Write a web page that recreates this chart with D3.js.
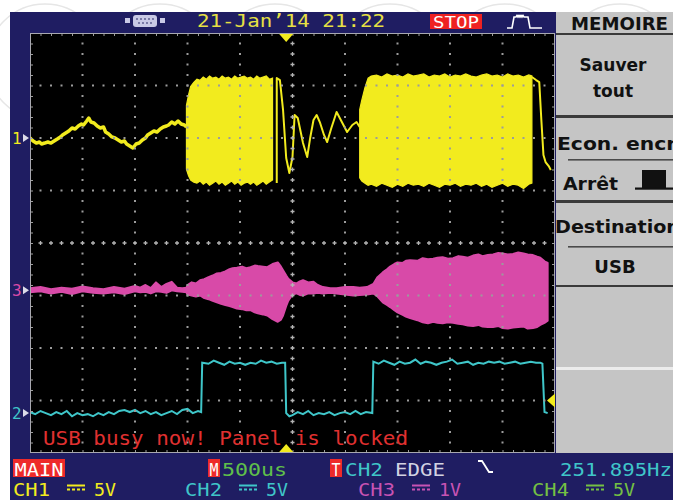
<!DOCTYPE html>
<html>
<head>
<meta charset="utf-8">
<script src="https://cdn.jsdelivr.net/npm/d3@7"></script>
<style>
  body { margin: 0; background: #fff; }
  svg { display: block; }
</style>
</head>
<body>
<div id="scope"></div>
<script>
/* Scope capture: CH1 / CH2 / CH3, 500 us/div, trigger CH2 falling edge.
   Time in ms from the left edge of the screen, amplitudes in volts. */

// ---- CH1 (5 V/div) ----
const CH1_PRE = [
  [0.00,0.00],[0.03,-0.29],[0.06,-0.48],[0.09,-0.38],[0.11,-0.57],[0.14,-0.48],[0.17,-0.38],
  [0.20,-0.48],[0.23,-0.29],[0.26,-0.10],[0.29,0.10],[0.31,0.29],[0.34,0.48],[0.37,0.67],
  [0.40,0.95],[0.43,0.86],[0.46,1.14],[0.49,1.33],[0.51,1.24],[0.54,1.62],[0.56,1.90],
  [0.58,1.52],[0.61,1.43],[0.64,1.14],[0.67,0.95],[0.70,1.05],[0.72,0.57],[0.75,0.38],
  [0.78,0.10],[0.81,0.00],[0.84,-0.19],[0.87,-0.38],[0.90,-0.29],[0.92,-0.57],[0.95,-0.76],
  [0.98,-0.95],[1.01,-0.57],[1.04,-0.48],[1.07,-0.19],[1.10,0.00],[1.12,0.29],[1.15,0.48],
  [1.18,0.67],[1.21,0.57],[1.24,0.86],[1.27,1.05],[1.30,1.14],[1.32,1.24],[1.35,1.52],
  [1.38,1.33],[1.41,1.62],[1.44,1.33],[1.47,1.24],[1.49,1.05]
];
// burst envelopes: [t, upper, lower]
const CH1_BURST_A = [
  [1.49,3.1,-3.0],[1.51,4.1,-3.6],[1.53,4.9,-4.0],[1.56,5.3,-4.2],[1.59,5.6,-4.3],[1.62,5.5,-4.1],
  [1.65,5.8,-4.4],[1.68,5.6,-4.2],[1.71,5.9,-4.5],[1.74,5.7,-4.3],[1.77,5.8,-4.1],[1.80,5.6,-4.4],
  [1.83,5.9,-4.2],[1.86,5.7,-4.5],[1.89,5.8,-4.3],[1.92,5.6,-4.1],[1.95,5.9,-4.4],[1.98,5.7,-4.2],
  [2.01,5.8,-4.5],[2.04,5.9,-4.3],[2.07,5.7,-4.2],[2.10,5.8,-4.4],[2.13,5.6,-4.2],[2.16,5.9,-4.5],
  [2.19,5.7,-4.3],[2.22,5.8,-4.1],[2.25,5.9,-4.4],[2.28,5.6,-4.2],[2.31,5.7,-4.0]
];
const CH1_RING = [
  [2.35,-4.29],[2.35,5.71],[2.38,5.52],[2.41,2.67],[2.44,-1.90],[2.47,-3.33],[2.50,-1.81],
  [2.52,2.19],[2.55,1.90],[2.60,-0.48],[2.64,-1.81],[2.67,0.10],[2.70,1.71],[2.73,2.19],
  [2.76,1.52],[2.80,0.29],[2.83,-0.38],[2.87,0.95],[2.92,2.48],[2.97,1.52],[3.02,0.57],
  [3.07,1.24],[3.11,1.52],[3.14,1.05]
];
const CH1_BURST_B = [
  [3.14,2.7,-3.8],[3.16,3.6,-4.1],[3.19,4.8,-4.3],[3.22,5.7,-4.5],[3.25,5.9,-4.4],[3.30,6.0,-4.6],
  [3.35,5.8,-4.3],[3.40,6.1,-4.5],[3.45,5.9,-4.7],[3.50,6.0,-4.4],[3.55,5.8,-4.6],[3.60,6.1,-4.3],
  [3.65,5.9,-4.5],[3.70,6.0,-4.4],[3.75,6.1,-4.6],[3.80,5.8,-4.3],[3.85,6.0,-4.5],[3.90,5.9,-4.7],
  [3.95,6.1,-4.4],[4.00,5.8,-4.5],[4.05,6.0,-4.3],[4.10,5.9,-4.6],[4.15,6.1,-4.4],[4.20,5.9,-4.5],
  [4.25,5.8,-4.3],[4.30,6.0,-4.6],[4.35,6.1,-4.4],[4.40,5.9,-4.7],[4.45,6.0,-4.5],[4.50,5.8,-4.3],
  [4.55,6.1,-4.6],[4.60,5.9,-4.4],[4.65,6.0,-4.5],[4.70,5.8,-4.8],[4.75,6.0,-4.4],[4.78,5.9,-4.3]
];
const CH1_TAIL = [
  [4.78,5.81],[4.82,5.52],[4.85,5.33],[4.87,1.71],[4.89,-1.62],[4.91,-2.29],[4.94,-2.67],[4.96,-3.05]
];

// ---- CH2 (5 V/div) ----
const CH2_TRACE = [
  [0.00,0.1],[0.05,-0.1],[0.10,0.2],[0.15,0.0],[0.20,-0.2],[0.25,0.1],[0.30,-0.1],[0.35,0.2],
  [0.40,-0.3],[0.45,0.0],[0.50,-0.2],[0.55,-0.1],[0.60,-0.3],[0.65,0.0],[0.70,-0.2],[0.75,0.1],
  [0.80,-0.1],[0.85,0.2],[0.90,0.3],[0.95,0.1],[1.00,0.3],[1.05,0.0],[1.10,0.2],[1.15,-0.1],
  [1.20,0.1],[1.25,-0.2],[1.30,0.0],[1.35,0.2],[1.40,-0.1],[1.45,0.3],[1.50,0.4],[1.55,0.0],
  [1.60,0.2],[1.63,0.1],[1.64,4.8],[1.70,4.7],[1.75,5.0],[1.80,4.8],[1.85,4.6],[1.90,4.9],
  [1.95,4.7],[2.00,4.8],[2.05,4.6],[2.10,4.8],[2.15,4.7],[2.20,5.0],[2.25,4.8],[2.30,4.9],
  [2.35,4.7],[2.40,4.8],[2.43,4.8],[2.44,0.0],[2.47,-0.3],[2.50,-0.2],[2.55,0.1],[2.60,-0.1],
  [2.65,0.2],[2.70,-0.2],[2.75,0.0],[2.80,-0.1],[2.85,0.1],[2.90,-0.2],[2.95,0.0],[3.00,0.1],
  [3.05,-0.1],[3.10,0.2],[3.15,-0.1],[3.20,0.1],[3.26,0.0],[3.27,4.9],[3.32,4.7],[3.37,5.0],
  [3.42,4.8],[3.47,4.6],[3.52,4.9],[3.57,4.7],[3.62,4.8],[3.67,5.1],[3.72,4.7],[3.77,4.9],
  [3.82,4.8],[3.87,4.6],[3.92,4.8],[3.97,4.9],[4.02,5.1],[4.07,4.7],[4.12,4.8],[4.17,4.9],
  [4.22,4.6],[4.27,4.8],[4.32,4.7],[4.37,4.9],[4.42,4.8],[4.47,4.9],[4.52,4.7],[4.57,4.8],
  [4.62,4.9],[4.67,4.7],[4.72,4.8],[4.77,4.9],[4.82,4.8],[4.86,4.8],[4.88,4.7],[4.90,0.1],
  [4.93,0.0]
];

// ---- CH3 (1 V/div) envelope: [t, upper, lower] ----
const CH3_ENV = [
  [0.00,0.04,-0.04],[0.10,0.06,-0.02],[0.20,0.02,-0.06],[0.30,0.05,-0.03],[0.40,0.03,-0.07],
  [0.50,0.07,-0.02],[0.60,0.04,-0.05],[0.70,0.02,-0.06],[0.80,0.06,-0.04],[0.90,0.03,-0.07],
  [1.00,0.08,-0.02],[1.05,0.05,-0.04],[1.10,0.10,-0.03],[1.15,0.04,-0.06],[1.20,0.15,-0.02],
  [1.25,0.06,-0.03],[1.30,0.12,-0.05],[1.35,0.16,0.00],[1.40,0.05,-0.02],[1.45,0.04,-0.03],
  [1.49,0.05,-0.04],[1.50,0.10,-0.08],[1.54,0.15,-0.10],[1.58,0.13,-0.12],[1.62,0.19,-0.10],
  [1.66,0.21,-0.15],[1.70,0.25,-0.17],[1.74,0.28,-0.20],[1.78,0.32,-0.23],[1.82,0.33,-0.26],
  [1.86,0.36,-0.28],[1.90,0.40,-0.30],[1.93,0.42,-0.32],[1.97,0.43,-0.35],[2.02,0.45,-0.36],
  [2.06,0.42,-0.38],[2.10,0.44,-0.38],[2.14,0.47,-0.42],[2.17,0.46,-0.44],[2.22,0.45,-0.46],
  [2.26,0.44,-0.48],[2.31,0.50,-0.55],[2.36,0.53,-0.60],[2.39,0.45,-0.56],[2.41,0.38,-0.48],
  [2.44,0.28,-0.30],[2.46,0.22,-0.20],[2.50,0.15,-0.08],[2.54,0.13,-0.06],[2.57,0.17,-0.09],
  [2.60,0.19,-0.10],[2.65,0.15,-0.06],[2.70,0.16,-0.06],[2.74,0.10,-0.05],[2.79,0.06,-0.06],
  [2.86,0.04,-0.05],[2.92,0.04,-0.06],[3.00,0.06,-0.08],[3.08,0.06,-0.10],[3.14,0.05,-0.09],
  [3.21,0.06,-0.08],[3.27,0.12,-0.06],[3.31,0.25,-0.12],[3.36,0.34,-0.23],[3.40,0.40,-0.28],
  [3.43,0.45,-0.32],[3.47,0.50,-0.38],[3.50,0.53,-0.42],[3.55,0.52,-0.47],[3.58,0.56,-0.50],
  [3.62,0.57,-0.53],[3.69,0.56,-0.57],[3.74,0.61,-0.61],[3.79,0.59,-0.63],[3.84,0.60,-0.60],
  [3.88,0.62,-0.62],[3.93,0.63,-0.63],[3.98,0.60,-0.61],[4.03,0.61,-0.62],[4.08,0.65,-0.64],
  [4.12,0.64,-0.65],[4.17,0.62,-0.67],[4.22,0.66,-0.68],[4.27,0.68,-0.66],[4.31,0.65,-0.69],
  [4.36,0.67,-0.70],[4.41,0.68,-0.70],[4.46,0.71,-0.68],[4.50,0.70,-0.72],[4.55,0.68,-0.73],
  [4.60,0.69,-0.71],[4.65,0.72,-0.70],[4.70,0.70,-0.69],[4.74,0.68,-0.73],[4.79,0.67,-0.72],
  [4.83,0.64,-0.70],[4.86,0.62,-0.66],[4.90,0.55,-0.62],[4.93,0.52,-0.58]
];

// trigger: CH2 falling edge
const TRIG_T = 2.44;      // ms
const TRIG_LEVEL = 1.2;   // V on CH2

// labels
const DATE_LABEL = "21-Jan\u201914 21:22";
const RUN_STATE = "STOP";
const MENU_TITLE = "MEMOIRE";
const MENU_ITEMS = ["Sauver", "tout", "Econ. encre", "Arr\u00eat", "Destination", "USB"];
const BUSY_MSG = "USB busy now! Panel is locked";
const TIMEBASE = "500us";
const TRIG_SRC = "CH2";
const TRIG_TYPE = "EDGE";
const FREQ = "251.895Hz";
const CH_NAMES = ["CH1", "CH2", "CH3", "CH4"];
const CH_VDIV = ["5V", "5V", "1V", "5V"];

// ---------------------------------------------------------------
const W = 673, H = 500;
const P = { left: 30, right: 555, top: 33, bottom: 453 };
const NAVY = "#1f1d62", GRID = "#9c9c9c", PANEL = "#c5c5c5";
const YEL = "#f2eb1e", CYAN = "#3fc6c9", MAG = "#d84aa8", GREEN = "#5fc04a";
const MONO = "'DejaVu Sans Mono', monospace";
const SANS = "'DejaVu Sans', sans-serif";

const chan = {
  ch1: { offset: 2.0,   vdiv: 5 },
  ch2: { offset: -3.24, vdiv: 5 },
  ch3: { offset: -0.9,  vdiv: 1 }
};

const svg = d3.select("#scope").append("svg")
  .attr("width", W).attr("height", H)
  .attr("viewBox", `0 0 ${W} ${H}`);

// faint watermark at the top of the page
svg.append("g").selectAll("circle").data([45, 160, 275, 390, 505, 620]).join("circle")
  .attr("cx", d => d).attr("cy", 62).attr("r", 58)
  .attr("fill", "none").attr("stroke", "#e6e6e6").attr("stroke-width", 1.5);

// scope frame
svg.append("rect").attr("x", 10).attr("y", 12).attr("width", W - 10).attr("height", H - 12)
  .attr("fill", NAVY);

const x = d3.scaleLinear().domain([0, 5]).range([P.left, P.right]);
const yDiv = d3.scaleLinear().domain([-4, 4]).range([P.bottom, P.top]);
const yFor = c => v => yDiv(c.offset + v / c.vdiv);
const y1 = yFor(chan.ch1), y2 = yFor(chan.ch2), y3 = yFor(chan.ch3);

// plot background
svg.append("rect").attr("x", P.left).attr("y", P.top)
  .attr("width", P.right - P.left).attr("height", P.bottom - P.top).attr("fill", "#000");

svg.append("clipPath").attr("id", "plot").append("rect")
  .attr("x", P.left).attr("y", P.top)
  .attr("width", P.right - P.left).attr("height", P.bottom - P.top);

const traces = svg.append("g").attr("clip-path", "url(#plot)");

const env = y => d3.area().x(d => x(d[0])).y0(d => y(d[2])).y1(d => y(d[1]));
const ln = y => d3.line().x(d => x(d[0])).y(d => y(d[1]));

// CH3
traces.append("path").datum(CH3_ENV).attr("d", env(y3))
  .attr("fill", MAG).attr("stroke", MAG).attr("stroke-width", 2).attr("stroke-linejoin", "round");

// CH2
traces.append("path").datum(CH2_TRACE).attr("d", ln(y2))
  .attr("fill", "none").attr("stroke", CYAN).attr("stroke-width", 2);

// CH1
[CH1_BURST_A, CH1_BURST_B].forEach(b =>
  traces.append("path").datum(b).attr("d", env(y1))
    .attr("fill", YEL).attr("stroke", YEL).attr("stroke-width", 1.2));
[CH1_PRE, CH1_RING, CH1_TAIL].forEach((s, i) =>
  traces.append("path").datum(s).attr("d", ln(y1))
    .attr("fill", "none").attr("stroke", YEL)
    .attr("stroke-width", i === 0 ? 3.5 : 2).attr("stroke-linejoin", "round"));

// ---- graticule ----
const minorT = d3.range(1, 50).map(i => i / 10);
const minorD = d3.range(-19, 20).map(i => i / 5);
const dots = [];
[-3, -2, -1, 1, 2, 3].forEach(j => minorT.forEach(t => dots.push([x(t), yDiv(j)])));
[0.5, 1, 1.5, 2, 3, 3.5, 4, 4.5].forEach(t => minorD.forEach(d => dots.push([x(t), yDiv(d)])));
svg.append("g").selectAll("rect").data(dots).join("rect")
  .attr("x", d => d[0] - 1).attr("y", d => d[1] - 1)
  .attr("width", 2).attr("height", 2).attr("fill", GRID);

const crosses = minorT.map(t => [x(t), yDiv(0)]).concat(minorD.map(d => [x(2.5), yDiv(d)]));
svg.append("g").selectAll("path").data(crosses).join("path")
  .attr("d", d => `M${d[0] - 2},${d[1]}H${d[0] + 2}M${d[0]},${d[1] - 2}V${d[1] + 2}`)
  .attr("stroke", "#b4b4b4").attr("stroke-width", 1.3);

function edgeTicks(axis, tr) {
  svg.append("g").attr("transform", tr).call(axis)
    .call(g => g.select(".domain").remove())
    .call(g => g.selectAll(".tick line").attr("stroke", GRID));
}
edgeTicks(d3.axisTop(x).tickValues(minorT).tickSize(-3).tickFormat(""), `translate(0,${P.top})`);
edgeTicks(d3.axisBottom(x).tickValues(minorT).tickSize(-3).tickFormat(""), `translate(0,${P.bottom})`);
edgeTicks(d3.axisLeft(yDiv).tickValues(minorD).tickSize(-3).tickFormat(""), `translate(${P.left},0)`);
edgeTicks(d3.axisRight(yDiv).tickValues(minorD).tickSize(-3).tickFormat(""), `translate(${P.right},0)`);

svg.append("rect").attr("x", P.left + 0.5).attr("y", P.top + 0.5)
  .attr("width", P.right - P.left - 1).attr("height", P.bottom - P.top - 1)
  .attr("fill", "none").attr("stroke", "#a8a8b0").attr("stroke-width", 1);

// trigger markers
const tx = x(TRIG_T);
svg.append("path").attr("d", `M${tx - 7},${P.top + 1}L${tx + 7},${P.top + 1}L${tx},${P.top + 9}Z`).attr("fill", YEL);
svg.append("path").attr("d", `M${tx - 7},${P.bottom - 1}L${tx + 7},${P.bottom - 1}L${tx},${P.bottom - 9}Z`).attr("fill", YEL);
const ty = y2(TRIG_LEVEL);
svg.append("path").attr("d", `M${P.right},${ty - 7}L${P.right},${ty + 7}L${P.right - 8},${ty}Z`).attr("fill", YEL);

// channel ground markers
[["1", y1(0), YEL], ["3", y3(0), MAG], ["2", y2(0), CYAN]].forEach(([n, yy, c]) => {
  svg.append("text").attr("x", 12).attr("y", yy + 6).text(n)
    .attr("fill", c).attr("font-family", MONO).attr("font-size", 16);
  svg.append("path").attr("d", `M23,${yy - 4}L29,${yy}L23,${yy + 4}Z`).attr("fill", "#dcdce8");
});

function txt(s, px, py, o) {
  const t = svg.append("text").attr("x", px).attr("y", py).text(s)
    .attr("fill", o.fill).attr("font-family", o.font || MONO).attr("font-size", o.size || 18)
    .attr("font-weight", o.weight || "normal");
  if (o.len) t.attr("textLength", o.len).attr("lengthAdjust", "spacingAndGlyphs");
  if (o.anchor) t.attr("text-anchor", o.anchor);
  return t;
}

txt(BUSY_MSG, 43, 445, { fill: "#e03030", size: 19, len: 365 });

// ---- top bar ----
const usb = svg.append("g").attr("fill", "#c9c9e6");
usb.append("rect").attr("x", 125).attr("y", 18).attr("width", 5).attr("height", 5);
usb.append("rect").attr("x", 133).attr("y", 15).attr("width", 24).attr("height", 12).attr("rx", 3);
usb.append("rect").attr("x", 160).attr("y", 18).attr("width", 5).attr("height", 5);
usb.selectAll("circle").data(d3.range(5)).join("circle")
  .attr("cx", i => 137 + i * 4).attr("cy", 19).attr("r", 0.9).attr("fill", "#55558a");
usb.selectAll("ellipse").data(d3.range(4)).join("ellipse")
  .attr("cx", i => 139 + i * 4).attr("cy", 23).attr("rx", 0.9).attr("ry", 0.9).attr("fill", "#55558a");

txt(DATE_LABEL, 197, 27, { fill: "#e7e044", size: 18, len: 188 });

svg.append("rect").attr("x", 430).attr("y", 14).attr("width", 52).attr("height", 15).attr("fill", "#ee2222");
txt(RUN_STATE, 433, 27.5, { fill: "#fff", size: 16, len: 46 });

svg.append("path")
  .attr("d", "M507,28H512L514,17H516L517,15.5L518,17L519,15.5L520,17L521,15.5L522,17L523,15.5L524,17H528L530,28H542")
  .attr("fill", "none").attr("stroke", "#fff").attr("stroke-width", 1.6);

// ---- softkey panel ----
const PX = 556, PW = W - PX;
const panel = svg.append("g");
[[12, 21], [35, 80], [118, 82], [203, 82], [287, 80], [370, 83]].forEach(([yy, hh]) =>
  panel.append("rect").attr("x", PX).attr("y", yy).attr("width", PW).attr("height", hh).attr("fill", PANEL));
[[33, 2, "#3a3a3a"], [115, 3, "#3a3a3a"], [200, 3, "#3a3a3a"], [285, 2, "#3a3a3a"], [367, 3, "#ececec"]]
  .forEach(([yy, hh, c]) =>
    panel.append("rect").attr("x", PX).attr("y", yy).attr("width", PW).attr("height", hh).attr("fill", c));
[160, 247].forEach(yy =>
  panel.append("rect").attr("x", 568).attr("y", yy - 1).attr("width", W - 568).attr("height", 1.6).attr("fill", "#4a4a4a"));

txt(MENU_TITLE, 571, 30, { fill: "#111", font: SANS, size: 17, weight: "bold", len: 97 });
txt(MENU_ITEMS[0], 613, 71, { fill: "#111", font: SANS, size: 17, weight: "bold", anchor: "middle" });
txt(MENU_ITEMS[1], 613, 97, { fill: "#111", font: SANS, size: 17, weight: "bold", anchor: "middle" });
txt(MENU_ITEMS[2], 557, 150, { fill: "#111", font: SANS, size: 17, weight: "bold", len: 133 });
txt(MENU_ITEMS[3], 563, 190, { fill: "#111", font: SANS, size: 17, weight: "bold", len: 55 });
txt(MENU_ITEMS[4], 555, 233, { fill: "#111", font: SANS, size: 17, weight: "bold", len: 125 });
txt(MENU_ITEMS[5], 615, 273, { fill: "#111", font: SANS, size: 18, weight: "bold", anchor: "middle" });
panel.append("rect").attr("x", 642).attr("y", 170).attr("width", 24).attr("height", 19).attr("fill", "#111");
panel.append("rect").attr("x", 635).attr("y", 187.5).attr("width", W - 635).attr("height", 2.2).attr("fill", "#111");

// ---- status lines ----
function tag(s, px, w) {
  svg.append("rect").attr("x", px).attr("y", 459).attr("width", w).attr("height", 18).attr("fill", "#ee2a2a");
  txt(s, px + 1.5, 475.5, { fill: "#fff", size: 17, len: w - 3 });
}
tag("MAIN", 13, 52);
tag("M", 208, 12);
txt(TIMEBASE, 222, 476, { fill: GREEN, size: 18, len: 65 });
tag("T", 330, 12);
txt(TRIG_SRC, 345, 476, { fill: CYAN, size: 18, len: 38 });
txt(TRIG_TYPE, 395, 476, { fill: "#d2d2e2", size: 18, len: 50 });
svg.append("path").attr("d", "M478,461H482L489,472H493")
  .attr("fill", "none").attr("stroke", "#fff").attr("stroke-width", 1.8);
txt(FREQ, 560, 476, { fill: CYAN, size: 18, len: 112 });

const chColors = [YEL, CYAN, "#c853b4", "#74c043"];
const chX = [13, 185, 358, 532];
CH_NAMES.forEach((n, i) => {
  const x0 = chX[i], c = chColors[i];
  txt(n, x0, 496, { fill: c, size: 17, len: 37 });
  svg.append("line").attr("x1", x0 + 54).attr("x2", x0 + 72).attr("y1", 485.5).attr("y2", 485.5)
    .attr("stroke", c).attr("stroke-width", 2);
  svg.append("line").attr("x1", x0 + 54).attr("x2", x0 + 72).attr("y1", 489.5).attr("y2", 489.5)
    .attr("stroke", c).attr("stroke-width", 2).attr("stroke-dasharray", "3,2");
  txt(CH_VDIV[i], x0 + 81, 496, { fill: c, size: 17, len: 22 });
});
</script>
</body>
</html>
